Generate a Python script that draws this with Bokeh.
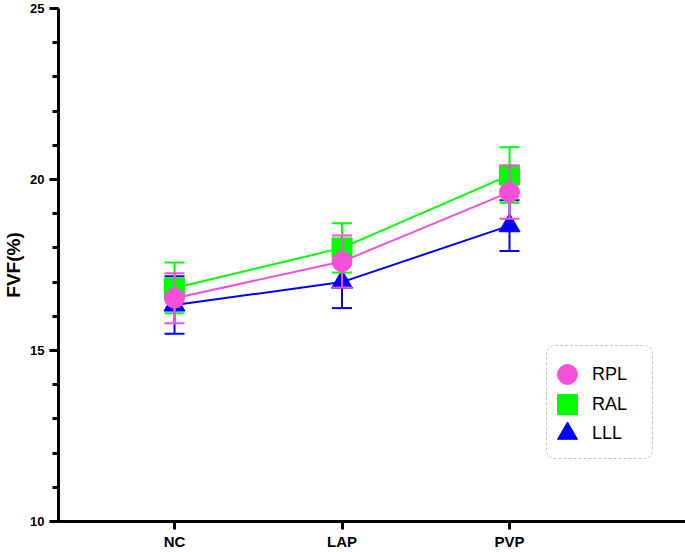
from bokeh.plotting import figure
from bokeh.models import Range1d, FixedTicker, SingleIntervalTicker, Legend, LegendItem, ColumnDataSource
from bokeh.embed import file_html
from bokeh.resources import INLINE

categories = ["NC", "LAP", "PVP"]
x_pos = [1, 2, 3]

rpl_mean = [16.53, 17.60, 19.63]
rpl_sd = [0.73, 0.76, 0.78]
ral_mean = [16.83, 18.00, 20.13]
ral_sd = [0.74, 0.72, 0.81]
lll_mean = [16.33, 17.00, 18.65]
lll_sd = [0.84, 0.76, 0.74]

FONT = "Liberation Sans"

p = figure(width=685, height=552, output_backend="svg", toolbar_location=None,
           x_range=Range1d(0.3075, 4.0507), y_range=Range1d(10, 25),
           min_border_left=58, min_border_right=0, min_border_top=8, min_border_bottom=0)
p.outline_line_color = None
p.xgrid.visible = False
p.ygrid.visible = False
p.background_fill_color = "white"
p.border_fill_color = "white"

# axes
p.xaxis.ticker = FixedTicker(ticks=x_pos)
p.xaxis.major_label_overrides = {x: c for x, c in zip(x_pos, categories)}
p.xaxis.minor_tick_line_color = None
p.xaxis.axis_line_width = 3
p.xaxis.major_tick_line_width = 3
p.xaxis.major_tick_out = 8
p.xaxis.major_tick_in = 0
p.xaxis.major_label_standoff = 3
p.xaxis.axis_label_standoff = 0
p.xaxis.major_label_text_font = FONT
p.xaxis.major_label_text_font_style = "bold"
p.xaxis.major_label_text_font_size = "15px"
p.xaxis.major_label_text_color = "black"

p.yaxis.ticker = SingleIntervalTicker(interval=5, num_minor_ticks=5)
p.yaxis.axis_line_width = 3
p.yaxis.major_tick_line_width = 3
p.yaxis.minor_tick_line_width = 3
p.yaxis.major_tick_out = 9
p.yaxis.major_tick_in = 0
p.yaxis.minor_tick_out = 6
p.yaxis.minor_tick_in = 0
p.yaxis.major_label_standoff = 5
p.yaxis.major_label_text_font = FONT
p.yaxis.major_label_text_font_style = "bold"
p.yaxis.major_label_text_font_size = "13px"
p.yaxis.major_label_text_color = "black"
p.yaxis.axis_label = "FVF(%)"
p.yaxis.axis_label_text_font = FONT
p.yaxis.axis_label_text_font_style = "bold"
p.yaxis.axis_label_text_font_size = "19px"
p.yaxis.axis_label_standoff = 3
p.yaxis.axis_label_text_color = "black"

series = [
    ("LLL", lll_mean, lll_sd, "#0000FF", "triangle"),
    ("RAL", ral_mean, ral_sd, "#00FF00", "square"),
    ("RPL", rpl_mean, rpl_sd, "#F551D6", "circle"),
]

items = {}
for name, mean, sd, color, marker in series:
    src = ColumnDataSource(dict(
        x=x_pos, y=mean,
        lo=[m - s for m, s in zip(mean, sd)],
        hi=[m + s for m, s in zip(mean, sd)],
    ))
    p.line("x", "y", source=src, line_color=color, line_width=2)
    p.segment(x0="x", y0="lo", x1="x", y1="hi", source=src, line_color=color, line_width=2)
    p.scatter("x", "lo", source=src, marker="dash", size=20, line_color=color, line_width=2)
    p.scatter("x", "hi", source=src, marker="dash", size=20, line_color=color, line_width=2)
    sz = 20 if marker != "triangle" else 21
    mr = p.scatter("x", "y", source=src, marker=marker, size=sz, fill_color=color, line_color=color)
    items[name] = LegendItem(label=name, renderers=[mr])

# legend frame (an empty entry whose glyph area sets the box size)
blank = p.scatter(x=[], y=[], marker="circle", size=1, fill_alpha=0, line_alpha=0)
frame_legend = Legend(items=[LegendItem(label=" ", renderers=[blank])],
                      location=(488, 62), padding=0, margin=0, spacing=0,
                      glyph_width=105, glyph_height=112, label_height=112,
                      label_standoff=0, label_width=0,
                      label_text_font=FONT, label_text_font_size="10px",
                      border_line_color="#8a8a8a", border_line_width=1,
                      border_line_dash="4 2 1 2",
                      background_fill_color="white", background_fill_alpha=1.0)
try:
    frame_legend.border_radius = 9
except Exception:
    pass
p.add_layout(frame_legend)

# one legend per entry, so the markers can be drawn at full size
for name, y_loc in [("RPL", 122), ("RAL", 92), ("LLL", 63)]:
    lg = Legend(items=[items[name]], location=(484, y_loc), padding=0, margin=0, spacing=0,
                glyph_width=50, glyph_height=50, label_height=50,
                label_standoff=0, label_width=50,
                label_text_font=FONT, label_text_font_size="18px",
                label_text_color="black",
                border_line_color=None, background_fill_alpha=0.0)
    p.add_layout(lg)

open("out.html", "w").write(file_html(p, INLINE))
